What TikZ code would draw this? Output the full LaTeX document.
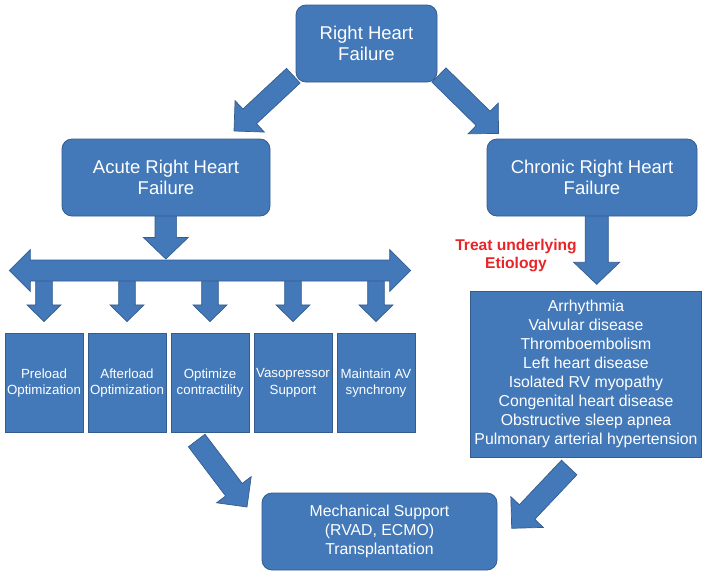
\documentclass[tikz,border=0pt]{standalone}
\usepackage{fontspec}
\setmainfont{Liberation Sans}
\usetikzlibrary{calc,backgrounds}
\definecolor{boxfill}{RGB}{67,121,185}
\definecolor{boxline}{RGB}{52,92,140}
\definecolor{treatred}{RGB}{232,36,40}

% block arrow: tail, tip, half shaft, half head, head length
\newcommand{\fatarrow}[5]{%
  \coordinate (hb) at ($(#2)!#5!(#1)$);
  \filldraw[arrowfill]
    ($(#1)!#3!90:(#2)$) -- ($(hb)!#3!90:(#2)$) -- ($(hb)!#4!90:(#2)$) -- (#2)
    -- ($(hb)!#4!-90:(#2)$) -- ($(hb)!#3!-90:(#2)$) -- ($(#1)!#3!-90:(#2)$) -- cycle;
}

\begin{document}
\begin{tikzpicture}[x=1pt,y=-1pt,
    mainbox/.style={draw=boxline, line width=0.8pt, fill=boxfill, rounded corners=10pt,
      text=white, align=center, inner sep=0pt, font=\fontsize{18.5}{21.5}\selectfont},
    treatbox/.style={draw=boxline, line width=0.8pt, fill=boxfill, text=white, align=center,
      inner sep=0pt, minimum width=78pt, minimum height=99pt, font=\fontsize{13.3}{16.7}\selectfont},
    listbox/.style={draw=boxline, line width=0.8pt, fill=boxfill, text=white, align=center,
      inner sep=0pt, font=\fontsize{15.8}{19.1}\selectfont},
    redlabel/.style={text=treatred, align=center, font=\bfseries\fontsize{15.6}{18}\selectfont},
    arrowfill/.style={fill=boxfill, draw=boxline, line width=0.7pt, line join=miter}]
  \useasboundingbox (0,0) rectangle (702,573);

  % boxes
  \node[mainbox, minimum width=141pt, minimum height=77pt] (rhf) at (366.5,43.5) {Right Heart\\Failure};
  \node[mainbox, minimum width=208pt, minimum height=77pt] (acute) at (166,177.5) {Acute Right Heart\\Failure};
  \node[mainbox, minimum width=210pt, minimum height=77pt] (chronic) at (592,177.5) {Chronic Right Heart\\Failure};
  \node[mainbox, minimum width=235pt, minimum height=77pt, font=\fontsize{15.8}{19}\selectfont] (mech)
    at (379.5,531.5) {Mechanical Support\\(RVAD, ECMO)\\Transplantation};

  \foreach \i/\txt in {1/{Preload\\Optimization}, 2/{Afterload\\Optimization},
      3/{Optimize\\contractility}, 4/{Vasopressor\\Support}, 5/{Maintain AV\\synchrony}}
    \node[treatbox] (t\i) at ({44+83*(\i-1)},383) {\txt};

  \node[listbox, minimum width=231pt, minimum height=166pt] (etiol) at (586,374)
    {Arrhythmia\\Valvular disease\\Thromboembolism\\Left heart disease\\Isolated RV myopathy\\
     Congenital heart disease\\Obstructive sleep apnea\\Pulmonary arterial hypertension};

  \node[redlabel] (treat) at (516,255) {Treat underlying\\Etiology};

  % arrows
  \begin{pgfonlayer}{background}
    \coordinate (barL) at (9.3,270.5);
    \coordinate (barR) at (410.7,270.5);
    \foreach \i in {1,...,5} {
      \coordinate (s\i) at ($(t\i.north)+(0,-62)$);
      \coordinate (e\i) at ($(t\i.north)+(0,-11.5)$);
      \fatarrow{s\i}{e\i}{8.3pt}{17pt}{16.7pt}
    }
    \filldraw[arrowfill] (barL) -- ++(21,-21) -- ++(0,10.5) -- ($(barR)+(-21,-10.5)$)
      -- ++(0,-10.5) -- (barR) -- ++(-21,21) -- ++(0,-10.5) -- ($(barL)+(21,10.5)$)
      -- ++(0,10.5) -- cycle;

    \coordinate (a1) at (293.3,75.7);  \coordinate (b1) at (234,131);
    \coordinate (a2) at (439,75);      \coordinate (b2) at (498.5,133.5);
    \coordinate (a3) at (165.8,205);   \coordinate (b3) at (165.8,259);
    \coordinate (a4) at (596.7,205);   \coordinate (b4) at (596.7,284.3);
    \coordinate (a5) at (196.7,440.5); \coordinate (b5) at (247,507);
    \coordinate (a6) at (569.2,467.5); \coordinate (b6) at (511.7,528.3);
    \fatarrow{a1}{b1}{10pt}{21.5pt}{21.5pt}
    \fatarrow{a2}{b2}{10pt}{21.5pt}{21.5pt}
    \fatarrow{a3}{b3}{10.8pt}{22.5pt}{21.6pt}
    \fatarrow{a4}{b4}{11.6pt}{23pt}{22pt}
    \fatarrow{a5}{b5}{10.4pt}{21.7pt}{21.7pt}
    \fatarrow{a6}{b6}{10.6pt}{22.4pt}{22.4pt}
  \end{pgfonlayer}
\end{tikzpicture}
\end{document}
